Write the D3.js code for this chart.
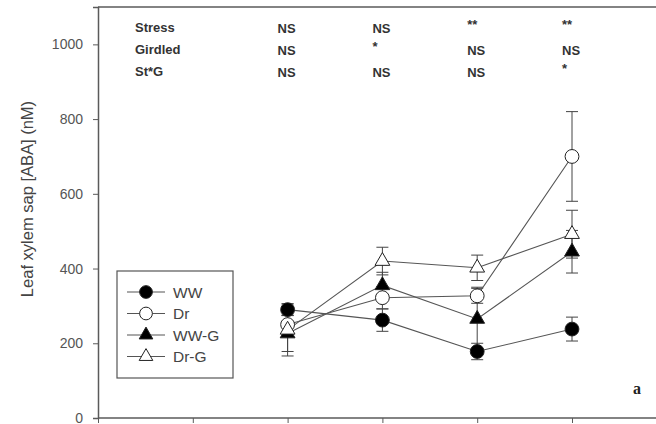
<!DOCTYPE html>
<html>
<head>
<meta charset="utf-8">
<script src="https://cdn.jsdelivr.net/npm/d3@7"></script>
<style>
  body { margin: 0; background: #fff; }
  svg { font-family: Arial, "Liberation Sans", sans-serif; }
</style>
</head>
<body>
<div id="chart"></div>
<script>
// sampling positions on the x axis
var days = [2, 3, 4, 5];
var xTicks = [0, 1, 2, 3, 4, 5, 6];
var yTicks = [0, 200, 400, 600, 800, 1000];

var seriesNames = ["WW", "Dr", "WW-G", "Dr-G"];
var wwVals  = [290, 262, 178, 238];
var wwErr   = [15, 30, 22, 32];
var drVals  = [250, 322, 327, 700];
var drErr   = [25, 30, 20, 120];
var wwgVals = [226, 355, 265, 445];
var wwgErr  = [48, 35, 85, 57];
var drgVals = [236, 420, 402, 492];
var drgErr  = [70, 37, 34, 64];

var statRows = ["Stress", "Girdled", "St*G"];
var statStress  = ["NS", "NS", "**", "**"];
var statGirdled = ["NS", "*", "NS", "NS"];
var statStG     = ["NS", "NS", "NS", "*"];

var width = 656, height = 424;
var margin = {left: 98, top: 7, bottom: 6};

var svg = d3.select("#chart").append("svg")
    .attr("width", width)
    .attr("height", height);

var x = d3.scaleLinear().domain([0, 6]).range([margin.left, margin.left + 6 * 94.8]);
var y = d3.scaleLinear().domain([0, 1100]).range([height - margin.bottom, margin.top]);

var axisCol = "#5a5a5a";

// frame (right side runs off the picture)
svg.append("line")
    .attr("x1", x(0)).attr("x2", width + 10)
    .attr("y1", y(1100)).attr("y2", y(1100))
    .attr("stroke", axisCol).attr("stroke-width", 1.5);

//y axis
var yAxis = svg.append("g")
    .attr("transform", "translate(" + x(0) + ",0)")
    .call(d3.axisLeft(y).tickValues(yTicks).tickSize(5).tickPadding(10).tickFormat(d3.format("d")));
yAxis.select(".domain").attr("stroke", axisCol).attr("stroke-width", 1.5);
yAxis.selectAll(".tick line").attr("stroke", axisCol);
yAxis.selectAll(".tick text").attr("fill", "#555").style("font-size", "14px");

//x axis, labels fall below the picture
var xAxis = svg.append("g")
    .attr("transform", "translate(0," + y(0) + ")")
    .call(d3.axisBottom(x).tickValues(xTicks).tickSize(5).tickFormat(""));
xAxis.select(".domain").attr("stroke", axisCol).attr("stroke-width", 1.5)
    .attr("d", "M" + x(0) + ",0H" + (width + 10));
xAxis.selectAll(".tick line").attr("stroke", axisCol);

svg.append("text")
    .attr("transform", "translate(33,199) rotate(-90)")
    .attr("text-anchor", "middle")
    .attr("fill", "#444")
    .style("font-size", "16.5px")
    .text("Leaf xylem sap [ABA] (nM)");

// significance table
var statCols = [statStress, statGirdled, statStG];
var rowY = [27, 49, 71];
statRows.forEach(function(name, i) {
    svg.append("text")
        .attr("x", 135).attr("y", rowY[i] + 5)
        .style("font-size", "13px").style("font-weight", "bold")
        .attr("fill", "#333")
        .text(name);
    statCols[i].forEach(function(s, j) {
        var star = s.indexOf("*") === 0;
        svg.append("text")
            .attr("x", x(days[j]) - 10)
            .attr("y", rowY[i] + (star ? 2 : 6))
            .style("font-size", "13px").style("font-weight", "bold")
            .attr("fill", "#333")
            .text(s);
    });
});

var series = [
    {name: "WW", vals: wwVals, err: wwErr, shape: d3.symbolCircle, fill: "#000", size: 150},
    {name: "Dr", vals: drVals, err: drErr, shape: d3.symbolCircle, fill: "#fff", size: 150},
    {name: "WW-G", vals: wwgVals, err: wwgErr, shape: d3.symbolTriangle, fill: "#000", size: 95},
    {name: "Dr-G", vals: drgVals, err: drgErr, shape: d3.symbolTriangle, fill: "#fff", size: 95}
];

var lineGen = d3.line()
    .x(function(d, i) { return x(days[i]); })
    .y(function(d) { return y(d); });

// error bars
series.forEach(function(s) {
    var g = svg.append("g");
    s.vals.forEach(function(v, i) {
        var cx = x(days[i]);
        g.append("line")
            .attr("x1", cx).attr("x2", cx)
            .attr("y1", y(v - s.err[i])).attr("y2", y(v + s.err[i]))
            .attr("stroke", "#444").attr("stroke-width", 1);
        [v - s.err[i], v + s.err[i]].forEach(function(e) {
            g.append("line")
                .attr("x1", cx - 6).attr("x2", cx + 6)
                .attr("y1", y(e)).attr("y2", y(e))
                .attr("stroke", "#444").attr("stroke-width", 1);
        });
    });
});

// lines
series.forEach(function(s) {
    svg.append("path")
        .datum(s.vals)
        .attr("d", lineGen)
        .attr("fill", "none")
        .attr("stroke", "#555")
        .attr("stroke-width", 1.1);
});

// markers
series.forEach(function(s) {
    svg.append("g").selectAll("path")
        .data(s.vals)
        .enter().append("path")
        .attr("transform", function(d, i) { return "translate(" + x(days[i]) + "," + y(d) + ")"; })
        .attr("d", d3.symbol().type(s.shape).size(s.size))
        .attr("fill", s.fill)
        .attr("stroke", "#222")
        .attr("stroke-width", 1);
});

// legend
var leg = svg.append("g");
leg.append("rect")
    .attr("x", 117).attr("y", 271)
    .attr("width", 116).attr("height", 107)
    .attr("fill", "#fff")
    .attr("stroke", "#555").attr("stroke-width", 1.2);
series.forEach(function(s, i) {
    var ly = 292 + i * 21.5;
    leg.append("line")
        .attr("x1", 127).attr("x2", 165)
        .attr("y1", ly).attr("y2", ly)
        .attr("stroke", "#555").attr("stroke-width", 1.1);
    leg.append("path")
        .attr("transform", "translate(146," + ly + ")")
        .attr("d", d3.symbol().type(s.shape).size(s.size * 0.85))
        .attr("fill", s.fill)
        .attr("stroke", "#222");
    leg.append("text")
        .attr("x", 173).attr("y", ly + 5.5)
        .style("font-size", "15.5px")
        .attr("fill", "#444")
        .text(s.name);
});

svg.append("text")
    .attr("x", 633).attr("y", 394)
    .style("font-family", "'Liberation Serif', serif")
    .style("font-size", "16px").style("font-weight", "bold")
    .attr("fill", "#222")
    .text("a");
</script>
</body>
</html>
